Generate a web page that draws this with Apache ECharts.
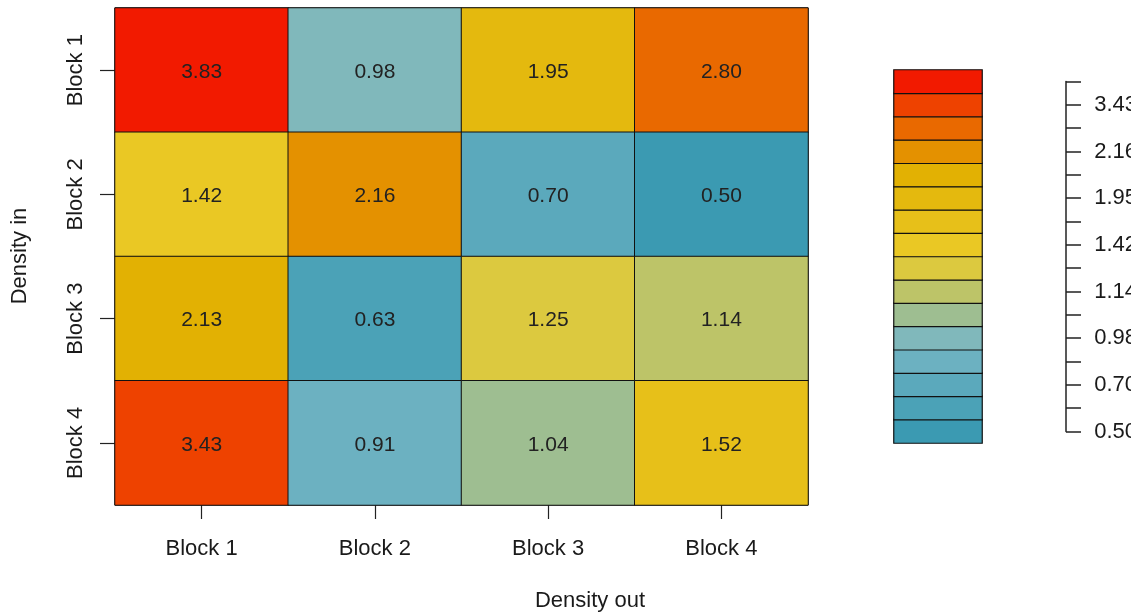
<!DOCTYPE html>
<html>
<head>
<meta charset="utf-8">
<script src="https://cdn.jsdelivr.net/npm/echarts@6/dist/echarts.min.js"></script>
<style>html,body{margin:0;padding:0;background:#fff}#c{width:1131px;height:614px}</style>
</head>
<body>
<div id="c"></div>
<script>
// ---- data ----
const outBlocks = ['Block 1', 'Block 2', 'Block 3', 'Block 4'];   // columns (Density out)
const inBlocks = ['Block 1', 'Block 2', 'Block 3', 'Block 4'];    // rows (Density in)
const row1 = [3.83, 0.98, 1.95, 2.80];
const row2 = [1.42, 2.16, 0.70, 0.50];
const row3 = [2.13, 0.63, 1.25, 1.14];
const row4 = [3.43, 0.91, 1.04, 1.52];
const rows = [row1, row2, row3, row4];
// legend categories (ascending) and palette
const legendValues = [0.50, 0.63, 0.70, 0.91, 0.98, 1.04, 1.14, 1.25, 1.42, 1.52, 1.95, 2.13, 2.16, 2.80, 3.43, 3.83];
const legendLabels = ['0.50', '0.63', '0.70', '0.91', '0.98', '1.04', '1.14', '1.25', '1.42', '1.52', '1.95', '2.13', '2.16', '2.80', '3.43', '3.83'];
const palette = ['#3B9AB2', '#4BA2B7', '#5BA9BC', '#6CB1C1', '#80B8BB', '#9EBE91', '#BDC468', '#DCC93F',
                 '#EAC824', '#E7C019', '#E4B90E', '#E2B103', '#E49100', '#E96900', '#EE4200', '#F21A00'];

// ---- build ----
const cellData = [];
rows.forEach((r, ri) => r.forEach((v, ci) => cellData.push([ci, ri, v])));
const legendData = legendValues.map((v, i) => ({ value: [0, i, v], itemStyle: { color: palette[i] } }));

const font = 'Liberation Sans, Arial, sans-serif';
const txt = '#1a1a1a';

const chart = echarts.init(document.getElementById('c'), null, { renderer: 'canvas' });
chart.setOption({
  animation: false,
  backgroundColor: '#ffffff',
  textStyle: { fontFamily: font },
  grid: [
    { left: 115, top: 8, width: 693, height: 497, show: true, borderColor: '#111', borderWidth: 1, backgroundColor: 'transparent' },
    { left: 894, top: 70, width: 88, height: 373 },
    { left: 1066, top: 81.5, width: 1, height: 350 }
  ],
  xAxis: [
    { gridIndex: 0, type: 'category', data: outBlocks, position: 'bottom',
      axisLine: { show: false }, splitLine: { show: false },
      axisTick: { show: true, alignWithLabel: true, length: 14, lineStyle: { color: '#222', width: 1.2 } },
      axisLabel: { margin: 33, fontSize: 22, color: txt, fontFamily: font } },
    { gridIndex: 1, type: 'category', data: ['x'], show: false },
    { gridIndex: 2, type: 'value', show: false }
  ],
  yAxis: [
    { gridIndex: 0, type: 'category', data: inBlocks, inverse: true,
      axisLine: { show: false }, splitLine: { show: false },
      axisTick: { show: true, alignWithLabel: true, length: 15, lineStyle: { color: '#222', width: 1.2 } },
      axisLabel: { rotate: 90, margin: 28, fontSize: 22, color: txt, fontFamily: font } },
    { gridIndex: 1, type: 'category', data: legendLabels, show: false },
    { gridIndex: 2, type: 'category', data: legendLabels, position: 'right', boundaryGap: false,
      axisLine: { show: true, lineStyle: { color: '#222', width: 1.5 } },
      axisTick: { show: true, interval: 0, length: 15, lineStyle: { color: '#222', width: 1.5 } },
      axisLabel: { interval: 1, margin: 28, fontSize: 22, color: txt, fontFamily: font },
      splitLine: { show: false } }
  ],
  visualMap: {
    type: 'piecewise', show: false, seriesIndex: 0, dimension: 2,
    pieces: legendValues.map((v, i) => ({ value: v, color: palette[i] }))
  },
  series: [
    { type: 'heatmap', xAxisIndex: 0, yAxisIndex: 0, data: cellData,
      itemStyle: { borderColor: '#111', borderWidth: 1 },
      label: { show: true, fontSize: 21, color: '#222', fontFamily: font, offset: [0, 2],
               formatter: p => p.value[2].toFixed(2) },
      emphasis: { disabled: true } },
    { type: 'heatmap', xAxisIndex: 1, yAxisIndex: 1, data: legendData,
      itemStyle: { borderColor: '#111', borderWidth: 1.2 },
      label: { show: false }, emphasis: { disabled: true } }
  ],
  graphic: [
    { type: 'text', x: 590, y: 601, style: { text: 'Density out', fontSize: 22, fill: txt, fontFamily: font, align: 'center', verticalAlign: 'middle' } },
    { type: 'text', x: 20, y: 256, rotation: Math.PI / 2, style: { text: 'Density in', fontSize: 22, fill: txt, fontFamily: font, align: 'center', verticalAlign: 'middle' } }
  ]
});
</script>
</body>
</html>
